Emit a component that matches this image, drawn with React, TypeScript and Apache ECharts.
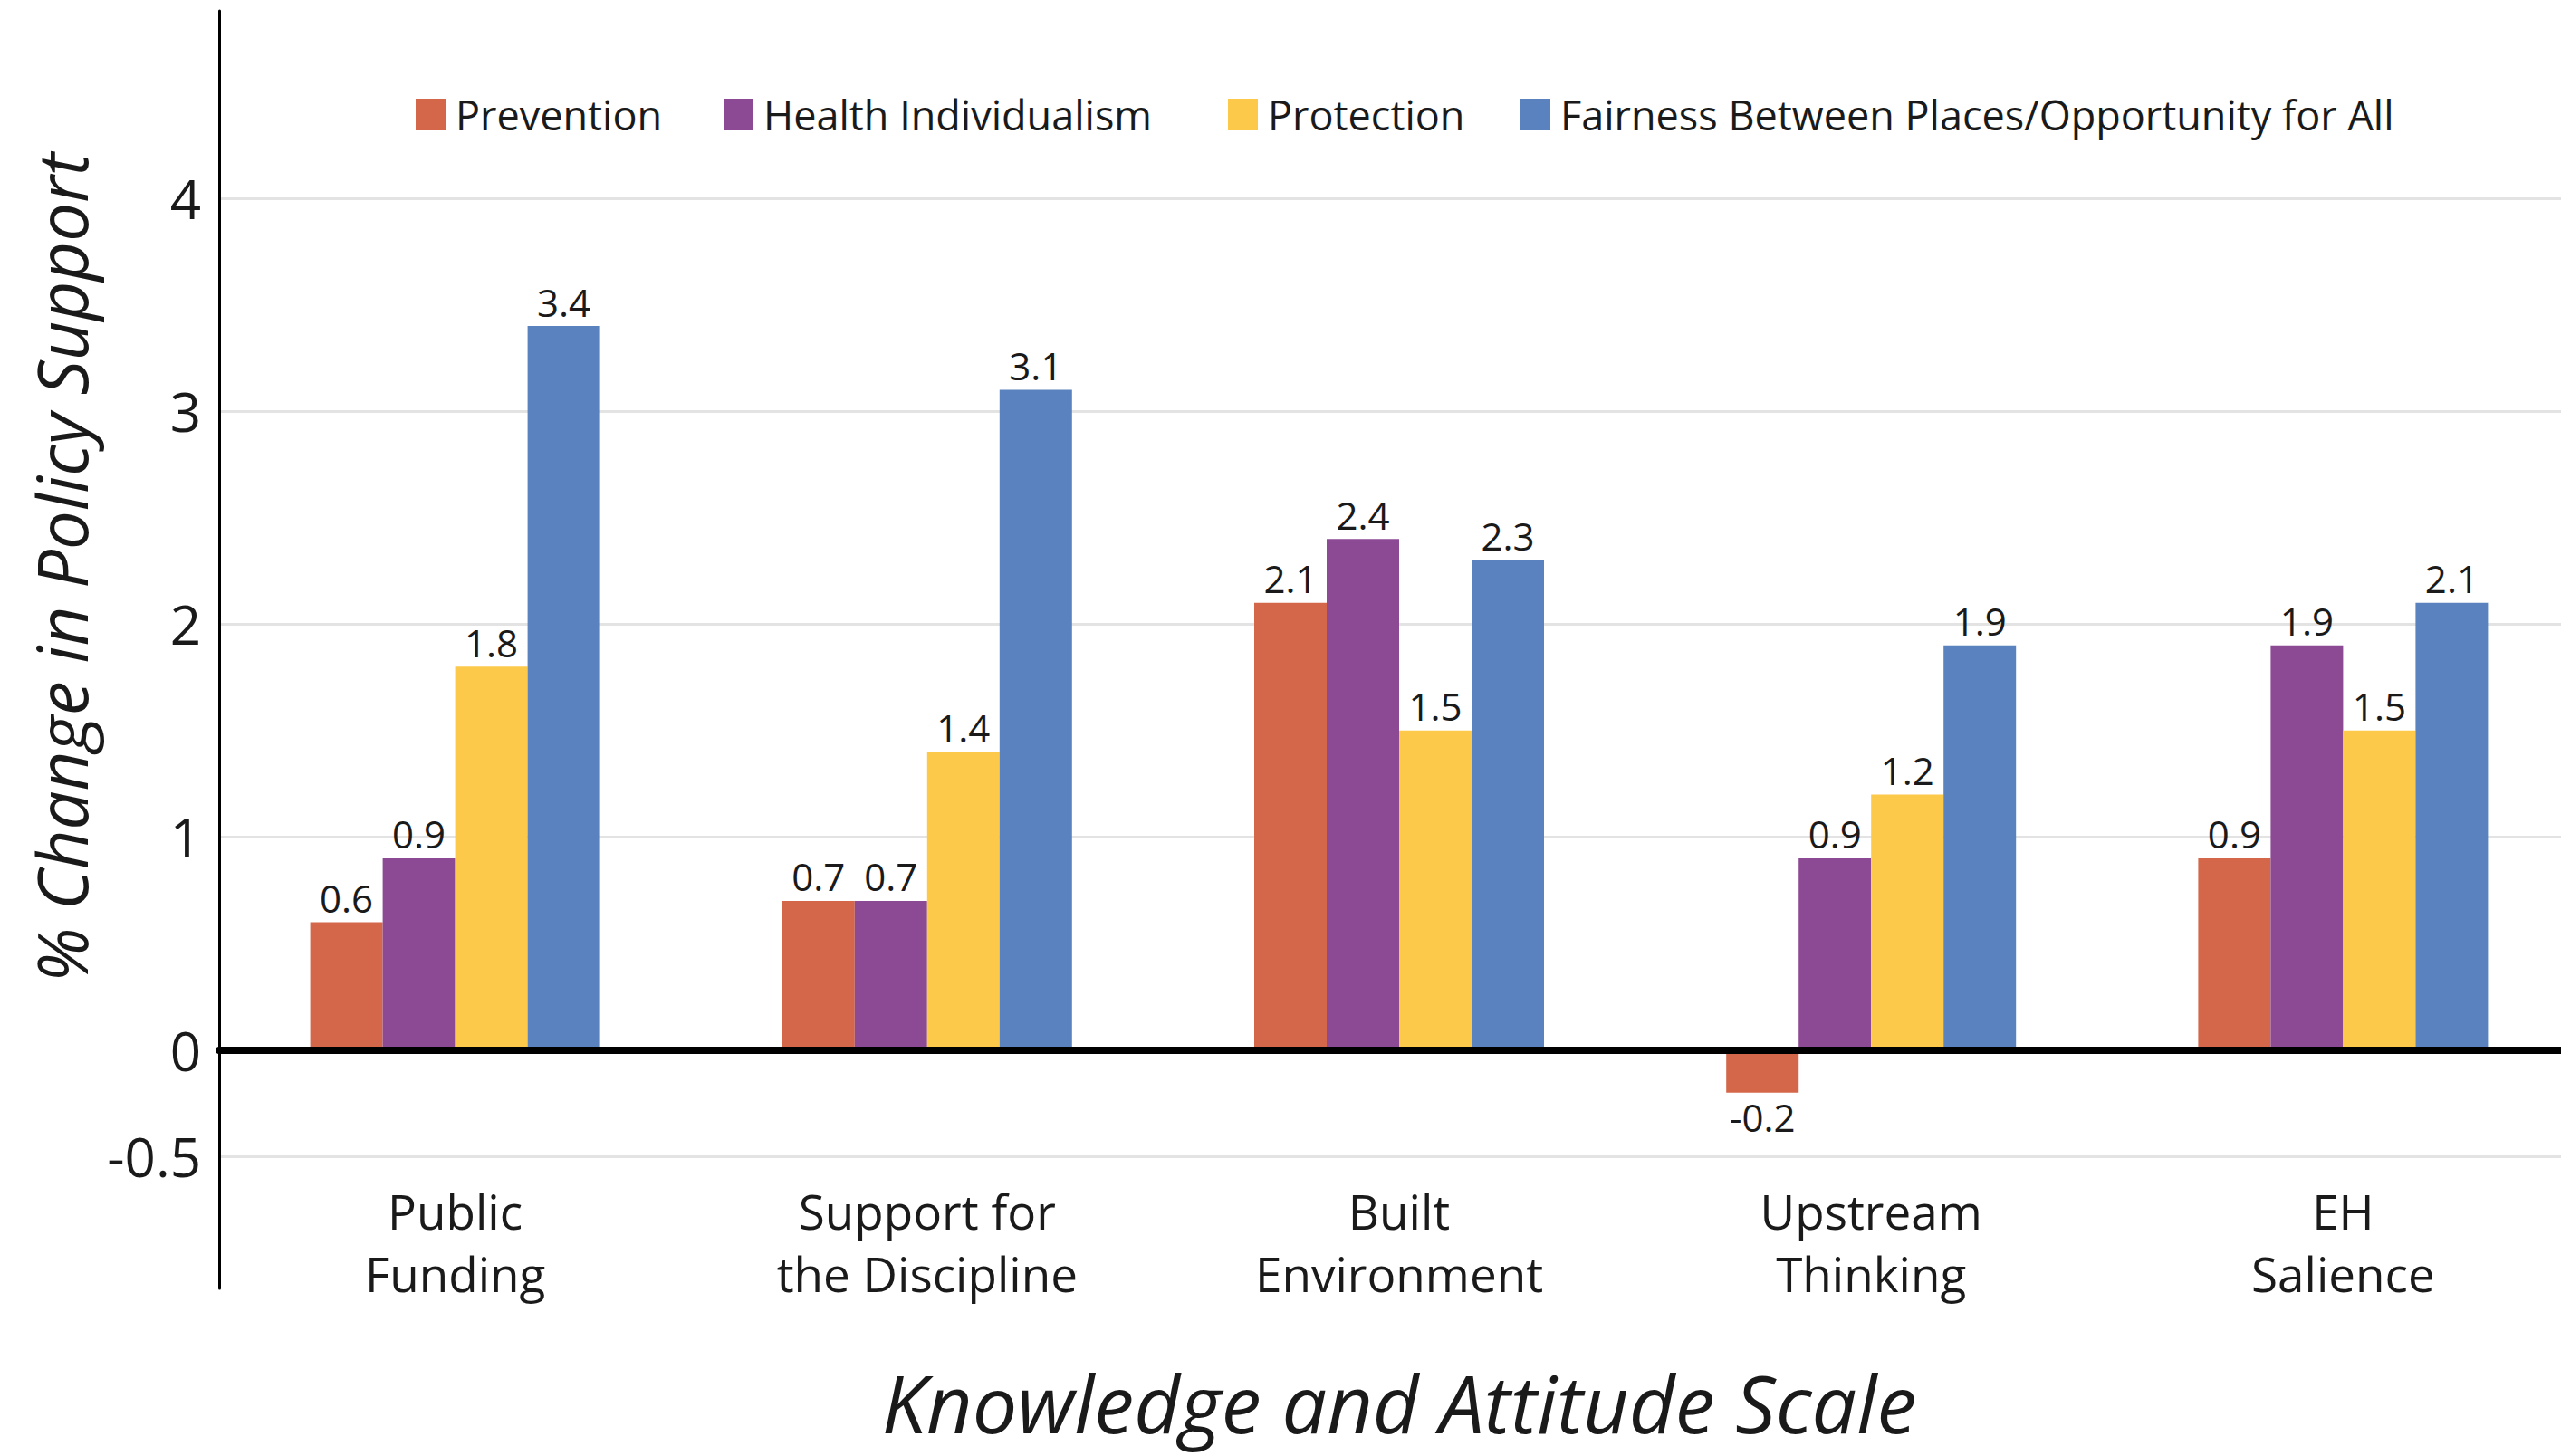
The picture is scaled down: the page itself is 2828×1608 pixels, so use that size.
import React, { useEffect, useRef } from "react";
import * as echarts from "echarts";

const categories = [
  "Public\nFunding",
  "Support for\nthe Discipline",
  "Built\nEnvironment",
  "Upstream\nThinking",
  "EH\nSalience",
];
const seriesNames = [
  "Prevention",
  "Health Individualism",
  "Protection",
  "Fairness Between Places/Opportunity for All",
];
const prevention = [0.6, 0.7, 2.1, -0.2, 0.9];
const healthIndividualism = [0.9, 0.7, 2.4, 0.9, 1.9];
const protection = [1.8, 1.4, 1.5, 1.2, 1.5];
const fairness = [3.4, 3.1, 2.3, 1.9, 2.1];
const yLabelValues = [-0.5, 0, 1, 2, 3, 4];
const gridValues = [-0.5, 1, 2, 3, 4];
const colors = ["#D4674A", "#8D4A94", "#FCC94A", "#5A82BE"];

const FONT = '"Open Sans", "Noto Sans", sans-serif';
const TEXT = "#1a1a1a";

export default function App() {
  const ref = useRef<HTMLDivElement>(null);
  useEffect(() => {
    if (!ref.current) return;
    const chart = echarts.init(ref.current, undefined, { renderer: "svg" });
    const allSeries = [prevention, healthIndividualism, protection, fairness];
    const legendLefts = [454, 794, 1351, 1674];
    const option: any = {
      animation: false,
      backgroundColor: "#ffffff",
      textStyle: { fontFamily: FONT },
      legend: seriesNames.map((n, i) => ({
        data: [n],
        left: legendLefts[i],
        top: 99,
        itemWidth: 33,
        itemHeight: 35,
        icon: "rect",
        selectedMode: false,
        textStyle: {
          fontSize: 45,
          color: TEXT,
          fontFamily: FONT,
          padding: [0, 0, 0, 6],
        },
      })),
      grid: {
        left: 242,
        top: 12,
        width: 2606,
        height: 1411,
        containLabel: false,
        outerBoundsMode: "none",
      },
      xAxis: {
        type: "category",
        data: categories,
        z: 10,
        axisLine: { show: true, onZero: true, lineStyle: { color: "#000", width: 8 } },
        axisTick: { show: false },
        axisLabel: {
          interval: 0,
          margin: -120,
          fontSize: 53,
          lineHeight: 69,
          color: TEXT,
          fontFamily: FONT,
        },
        name: "Knowledge and Attitude Scale",
        nameLocation: "middle",
        nameGap: 82,
        nameTextStyle: {
          fontSize: 88,
          fontStyle: "italic",
          color: TEXT,
          fontFamily: FONT,
        },
      },
      yAxis: {
        type: "value",
        min: -1.12,
        max: 4.88,
        axisLine: { show: true, lineStyle: { color: "#000", width: 3 } },
        axisTick: { show: false, customValues: gridValues },
        axisLabel: {
          customValues: yLabelValues,
          fontSize: 60,
          margin: 20,
          color: TEXT,
          fontFamily: FONT,
          formatter: (v: number) => String(v),
        },
        splitLine: { show: true, lineStyle: { color: "#E3E3E3", width: 3 } },
      },
      graphic: [
        {
          type: "text",
          x: 67,
          y: 627,
          rotation: Math.PI / 2,
          style: {
            text: "% Change in Policy Support",
            fontSize: 76,
            fontStyle: "italic",
            fontFamily: FONT,
            fill: TEXT,
            textAlign: "center",
            textVerticalAlign: "middle",
          },
        },
      ],
      series: allSeries.map((vals, i) => ({
        type: "bar",
        name: seriesNames[i],
        barWidth: 80,
        barGap: "0%",
        itemStyle: { color: colors[i] },
        label: {
          show: true,
          position: "top",
          distance: 6,
          fontSize: 42,
          color: TEXT,
          fontFamily: FONT,
          formatter: (p: any) => Number(p.value).toFixed(1),
        },
        data: vals.map((v) =>
          v < 0 ? { value: v, label: { position: "bottom" } } : v
        ),
      })),
    };
    chart.setOption(option);
    return () => chart.dispose();
  }, []);
  return (
    <div
      ref={ref}
      style={{ position: "fixed", left: 0, top: 0, width: 2828, height: 1608 }}
    />
  );
}
